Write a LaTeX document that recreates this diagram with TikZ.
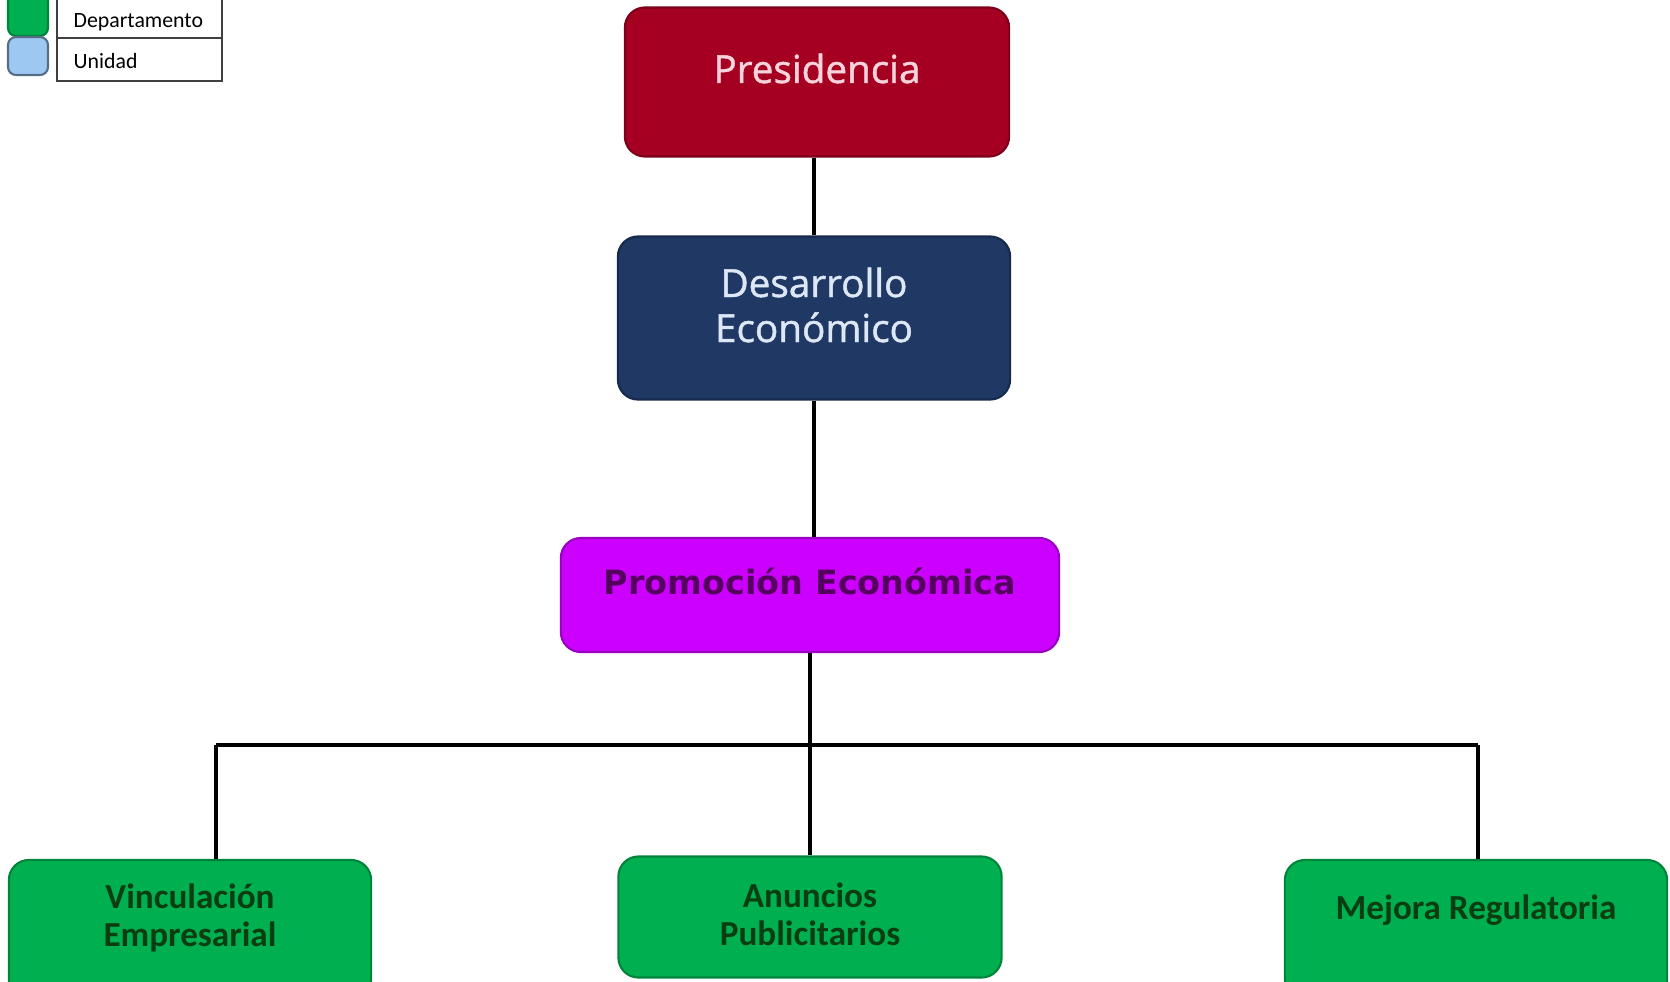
\documentclass[tikz,border=0pt]{standalone}
\usepackage{fontspec}
\setmainfont{Open Sans}
\newfontfamily\semifont{Open Sans}[FakeBold=1.2]
\newfontfamily\verdanafont{DejaVu Sans}
\newfontfamily\calibrifont{Carlito}
\definecolor{presred}{HTML}{A50021}
\definecolor{presink}{HTML}{F8D3DC}
\definecolor{desblue}{HTML}{1F3864}
\definecolor{desink}{HTML}{DDE7F6}
\definecolor{prompurple}{HTML}{CC00FF}
\definecolor{promink}{HTML}{55005F}
\definecolor{depgreen}{HTML}{00B050}
\definecolor{depink}{HTML}{0B3D12}
\definecolor{unitblue}{HTML}{9DC8F2}

\begin{document}
\begin{tikzpicture}[x=0.01cm,y=-0.01cm,
  box/.style={rounded corners=0.2cm,line width=0.6pt,inner sep=0pt},
  link/.style={line width=1.3pt}]
  \useasboundingbox (0,0) rectangle (1670,982);
  \clip (0,0) rectangle (1670,982);
  \draw[box,rounded corners=0.08cm,fill=depgreen,draw=depgreen!75!black] (8,-10) rectangle (48,36);
  \draw[box,rounded corners=0.08cm,fill=unitblue,draw=unitblue!55!black] (8,37) rectangle (48,75);
  \draw[line width=0.5pt,draw=black!75] (57,-10) rectangle (222,81);
  \draw[line width=0.5pt,draw=black!75] (57,38) -- (222,38);
  \node[anchor=base west,inner sep=0pt,font=\calibrifont\fontsize{6.2}{7}\selectfont] (leg-dep) at (73,28) {Departamento};
  \node[anchor=base west,inner sep=0pt,font=\calibrifont\fontsize{6.2}{7}\selectfont] (leg-uni) at (73,69) {Unidad};
  \node[box,fill=presred,draw=presred!75!black,minimum width=3.84cm,minimum height=1.49cm] (pres) at (817,82) {};
  \node[anchor=base,text=presink,font=\semifont\fontsize{11}{13}\selectfont] (pres-txt) at (817,83) {Presidencia};
  \node[box,fill=desblue,draw=desblue!75!black,minimum width=3.92cm,minimum height=1.63cm] (des) at (814,318) {};
  \node[align=center,text=desink,font=\semifont\fontsize{11}{12.8}\selectfont] (des-txt) at (814,305) {Desarrollo\\Económico};
  \node[box,fill=prompurple,draw=prompurple!75!black,minimum width=4.98cm,minimum height=1.14cm] (prom) at (810,595) {};
  \node[anchor=base,text=promink,font=\verdanafont\bfseries\fontsize{9.5}{11}\selectfont] (prom-txt) at (810,594) {Promoción Económica};
  \node[box,fill=depgreen,draw=depgreen!75!black,minimum width=3.62cm,minimum height=1.4cm] (vinc) at (190,930) {};
  \node[align=center,text=depink,font=\calibrifont\bfseries\fontsize{10}{10.8}\selectfont] (vinc-txt) at (190,918) {Vinculación\\Empresarial};
  \node[box,fill=depgreen,draw=depgreen!75!black,minimum width=3.83cm,minimum height=1.21cm] (anun) at (810,917) {};
  \node[align=center,text=depink,font=\calibrifont\bfseries\fontsize{10}{10.8}\selectfont] (anun-txt) at (810,914) {Anuncios\\Publicitarios};
  \node[box,fill=depgreen,draw=depgreen!75!black,minimum width=3.82cm,minimum height=1.4cm] (mej) at (1476,930) {};
  \node[anchor=base,text=depink,font=\calibrifont\bfseries\fontsize{10}{12}\selectfont] (mej-txt) at (1476,919) {Mejora Regulatoria};
  \coordinate (jl) at (216,745);
  \coordinate (jr) at (1478,745);
  \draw[link] (pres.south -| des.north) -- (des.north);
  \draw[link] (des.south) -- (des.south |- prom.north);
  \draw[link] (prom.south) -- (anun.north);
  \draw[link] (jl) -- (jr);
  \draw[link] (jl) -- (jl |- vinc.north);
  \draw[link] (jr) -- (jr |- mej.north);
\end{tikzpicture}
\end{document}
